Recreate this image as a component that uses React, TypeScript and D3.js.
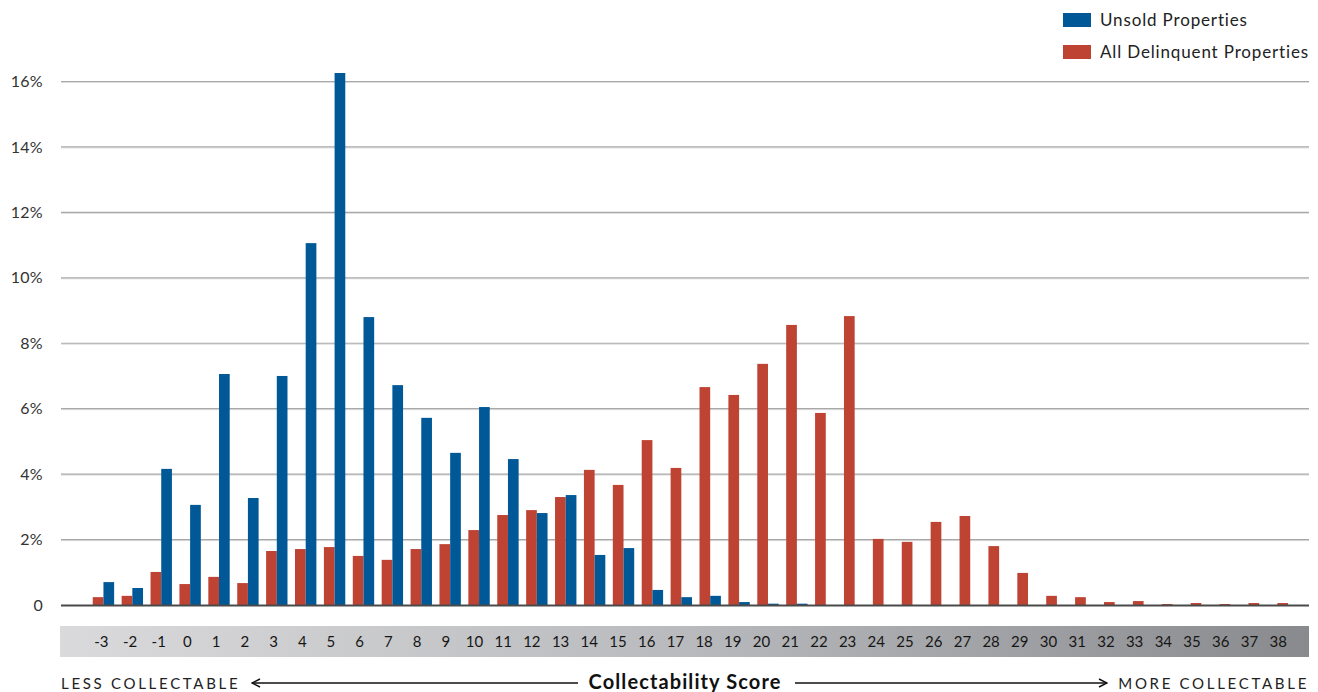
import React from "react";
import * as d3 from "d3";

const categories: number[] = d3.range(-3, 39);
const unsold: number[] = [
  0.70, 0.52, 4.16, 3.06, 7.06, 3.27, 7.0, 11.06, 16.26, 8.8, 6.72, 5.72, 4.65, 6.05,
  4.46, 2.81, 3.36, 1.53, 1.74, 0.46, 0.24, 0.28, 0.09, 0.04, 0.04, 0, 0, 0,
  0, 0, 0, 0, 0, 0, 0, 0, 0, 0, 0, 0, 0, 0,
];
const delinquent: number[] = [
  0.24, 0.28, 1.01, 0.64, 0.86, 0.67, 1.65, 1.71, 1.77, 1.5, 1.38, 1.71, 1.86, 2.29,
  2.75, 2.9, 3.3, 4.13, 3.67, 5.04, 4.19, 6.66, 6.42, 7.37, 8.56, 5.87, 8.83, 2.02,
  1.93, 2.54, 2.72, 1.8, 0.98, 0.28, 0.24, 0.09, 0.12, 0.03, 0.06, 0.03, 0.06, 0.06,
];
const yTicks: number[] = [0, 2, 4, 6, 8, 10, 12, 14, 16];
const seriesNames: string[] = ["Unsold Properties", "All Delinquent Properties"];
const seriesColors: string[] = ["#005897", "#be4332"];

const W = 1318;
const H = 692;
const FONT = "Lato, 'Open Sans', sans-serif";

export default function App() {
  const left = 61;
  const right = 1309;
  const y = d3.scaleLinear().domain([0, 16]).range([605, 81.5]);
  const x = d3.scaleBand<number>().domain(categories).range([89, 1302.5]).paddingInner(0.26).paddingOuter(0.13);
  const xLabel = d3.scaleBand<number>().domain(categories).range([87, 1292.5]);
  const sub = d3.scaleBand<number>().domain([0, 1]).range([0, x.bandwidth()]);
  const data = categories.map((c, i) => ({ c, u: unsold[i], d: delinquent[i] }));

  return (
    <svg width={W} height={H} style={{ position: "absolute", left: 0, top: 0, fontFamily: FONT }}>
      <defs>
        <linearGradient id="band" x1="0" x2="1" y1="0" y2="0">
          <stop offset="0" stopColor="#dadadc" />
          <stop offset="0.5" stopColor="#b9babd" />
          <stop offset="1" stopColor="#898a8d" />
        </linearGradient>
        <marker id="arrL" viewBox="0 0 10 10" refX="1" refY="5" markerWidth="10" markerHeight="10" markerUnits="userSpaceOnUse" orient="auto">
          <path d="M9,1 L1,5 L9,9" fill="none" stroke="#111" strokeWidth={1.4} />
        </marker>
        <marker id="arrR" viewBox="0 0 10 10" refX="9" refY="5" markerWidth="10" markerHeight="10" markerUnits="userSpaceOnUse" orient="auto">
          <path d="M1,1 L9,5 L1,9" fill="none" stroke="#111" strokeWidth={1.4} />
        </marker>
      </defs>

      {/* gridlines */}
      {yTicks.filter((t) => t > 0).map((t) => (
        <g key={t}>
          <line x1={left} x2={right} y1={y(t) + 1} y2={y(t) + 1} stroke="#dedede" strokeWidth={1} />
          <line x1={left} x2={right} y1={y(t)} y2={y(t)} stroke="#a8a8a8" strokeWidth={1.2} />
        </g>
      ))}

      {/* y tick labels */}
      {yTicks.map((t) => (
        <text key={t} x={43} y={y(t)} dy="0.35em" textAnchor="end" fontSize={16} letterSpacing={0.3} fill="#333">
          {t === 0 ? "0" : `${t}%`}
        </text>
      ))}

      {/* bars */}
      {data.map((d) => (
        <g key={d.c} transform={`translate(${x(d.c)},0)`}>
          <rect x={sub(0)} y={y(d.d)} width={sub.bandwidth()} height={y(0) - y(d.d)} fill={seriesColors[1]} />
          <rect x={sub(1)} y={y(d.u)} width={sub.bandwidth()} height={y(0) - y(d.u)} fill={seriesColors[0]} />
        </g>
      ))}

      {/* baseline */}
      <line x1={left} x2={right} y1={y(0) + 0.5} y2={y(0) + 0.5} stroke="#4a4a4a" strokeWidth={2} />

      {/* category band */}
      <rect x={60} y={626} width={right - 60} height={31} fill="url(#band)" />
      {categories.map((c) => (
        <text key={c} x={(xLabel(c) as number) + xLabel.bandwidth() / 2} y={642} dy="0.35em" textAnchor="middle" fontSize={15} fill="#161616">
          {c}
        </text>
      ))}

      {/* bottom axis caption */}
      <text x={61} y={689} fontSize={15} letterSpacing={2.7} fill="#222">LESS COLLECTABLE</text>
      <line x1={252} x2={578} y1={683} y2={683} stroke="#111" strokeWidth={1.4} markerStart="url(#arrL)" />
      <text x={685} y={689} textAnchor="middle" fontSize={20} fontWeight="bold" letterSpacing={1.1} fill="#111">Collectability Score</text>
      <line x1={795} x2={1107} y1={683} y2={683} stroke="#111" strokeWidth={1.4} markerEnd="url(#arrR)" />
      <text x={1309} y={689} textAnchor="end" fontSize={15} letterSpacing={2.7} fill="#222">MORE COLLECTABLE</text>

      {/* legend */}
      {seriesNames.map((n, i) => (
        <g key={n} transform={`translate(1063,${13 + i * 32})`}>
          <rect x={0} y={0} width={28} height={14} fill={seriesColors[i]} />
          <text x={37} y={7} dy="0.35em" fontSize={17} letterSpacing={0.85} fill="#222">{n}</text>
        </g>
      ))}
    </svg>
  );
}
